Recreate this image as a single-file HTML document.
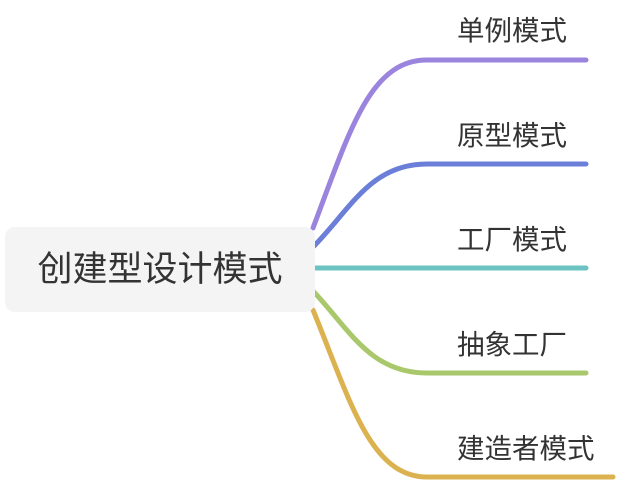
<!DOCTYPE html>
<html><head><meta charset="utf-8"><style>
body{margin:0;width:618px;height:482px;background:#fff;overflow:hidden;position:relative;font-family:"Liberation Sans","Noto Sans CJK SC",sans-serif;color:#333}
.root{position:absolute;left:5px;top:227px;width:310px;height:85px;background:#f4f4f4;border-radius:10px;font-size:35px;line-height:85px;text-align:center}
.l{position:absolute;left:457px;font-size:27.5px;line-height:30px;white-space:nowrap}
</style></head><body>
<svg width="618" height="482" style="position:absolute;left:0;top:0" fill="none" stroke-width="5" stroke-linecap="round">
<path d="M313,228 C350,130 370,60 427,60 L586,60" stroke="#9b84dd"/>
<path d="M313,247 C350,210 370,164 427,164 L586,164" stroke="#6b7fd8"/>
<path d="M315,268 L586,268" stroke="#6cc3c3"/>
<path d="M313,291 C350,330 370,373 427,373 L586,373" stroke="#a9c76b"/>
<path d="M313,310 C350,400 370,477 427,477 L613,477" stroke="#dbb24f"/>
</svg>
<div class="root">创建型设计模式</div>
<div class="l" style="top:16px">单例模式</div>
<div class="l" style="top:121px">原型模式</div>
<div class="l" style="top:225px">工厂模式</div>
<div class="l" style="top:330px">抽象工厂</div>
<div class="l" style="top:434px">建造者模式</div>
</body></html>
